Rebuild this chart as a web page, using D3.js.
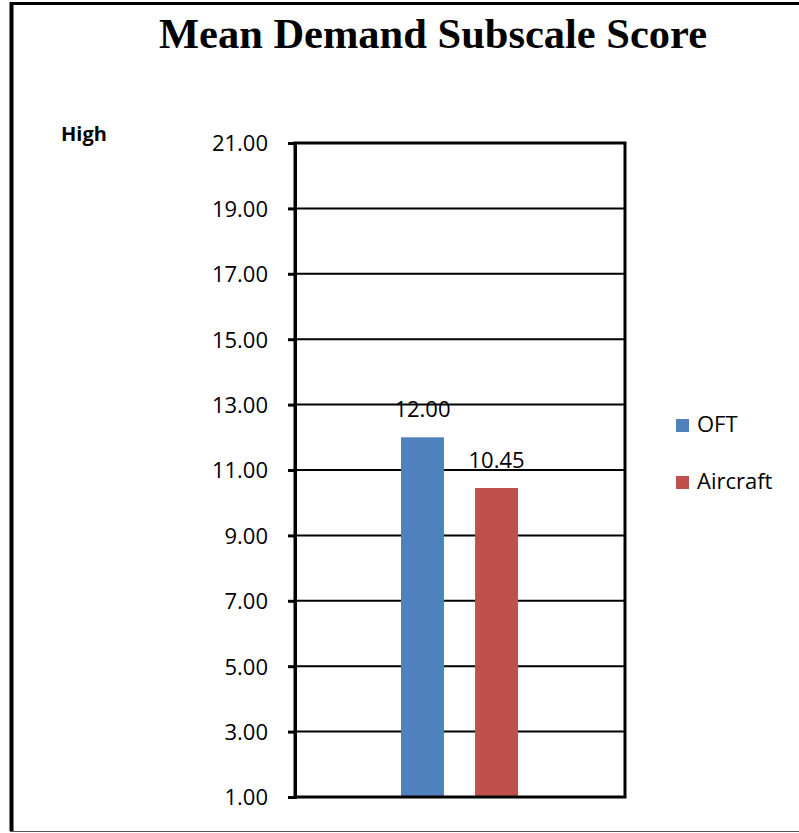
<!DOCTYPE html>
<html>
<head>
<meta charset="utf-8">
<script src="https://cdn.jsdelivr.net/npm/d3@7"></script>
<style>
  body { margin: 0; background: #fff; }
  svg text { fill: #000; }
</style>
</head>
<body>
<script>
// chart values
const series = ['OFT', 'Aircraft'];
const values = [12.00, 10.45];
const colors = ['#4f81bd', '#c0504d'];
const ticks = [1, 3, 5, 7, 9, 11, 13, 15, 17, 19, 21];

const W = 799, H = 833;
const plot = { left: 295, right: 625, top: 143, bottom: 797 };
const font = 'Open Sans, Lato, sans-serif';

const svg = d3.select('body').append('svg').attr('width', W).attr('height', H);

// outer frame (left, top, bottom only visible)
svg.append('line').attr('x1', 11.5).attr('x2', 11.5).attr('y1', 2).attr('y2', 831)
  .attr('stroke', '#000').attr('stroke-width', 4);
svg.append('line').attr('x1', 10).attr('x2', W).attr('y1', 3.5).attr('y2', 3.5)
  .attr('stroke', '#000').attr('stroke-width', 3);
svg.append('line').attr('x1', 10).attr('x2', W).attr('y1', 831.5).attr('y2', 831.5)
  .attr('stroke', '#555').attr('stroke-width', 1);

svg.append('text').attr('x', 433).attr('y', 48).attr('text-anchor', 'middle')
  .style('font-family', 'Liberation Serif, Times New Roman, serif')
  .style('font-weight', 'bold').style('font-size', '42.5px')
  .text('Mean Demand Subscale Score');

svg.append('text').attr('x', 61).attr('y', 141)
  .style('font-family', font)
  .style('font-weight', 'bold').style('font-size', '20px')
  .text('High');

const y = d3.scaleLinear().domain([1, 21]).range([plot.bottom, plot.top]);
const x1 = d3.scaleBand().domain(series).range([401, 518]).paddingInner(0.42);

// gridlines
svg.append('g').selectAll('line').data(ticks).join('line')
  .attr('x1', plot.left).attr('x2', plot.right)
  .attr('y1', d => y(d)).attr('y2', d => y(d))
  .attr('stroke', '#000').attr('stroke-width', 2);

// bars
svg.append('g').selectAll('rect').data(values).join('rect')
  .attr('x', (d, i) => x1(series[i]))
  .attr('width', x1.bandwidth())
  .attr('y', d => y(d))
  .attr('height', d => y(1) - y(d))
  .attr('fill', (d, i) => colors[i]);

// data labels
svg.append('g').selectAll('text').data(values).join('text')
  .attr('x', (d, i) => x1(series[i]) + x1.bandwidth() / 2)
  .attr('y', d => y(d) - 20)
  .attr('text-anchor', 'middle')
  .style('font-family', font).style('font-size', '22px')
  .text(d => d.toFixed(2));

// plot border
svg.append('rect').attr('x', plot.left).attr('y', plot.top)
  .attr('width', plot.right - plot.left).attr('height', plot.bottom - plot.top)
  .attr('fill', 'none').attr('stroke', '#000').attr('stroke-width', 3);

// y axis
const yAxis = d3.axisLeft(y).tickValues(ticks).tickFormat(d3.format('.2f'))
  .tickSize(7).tickPadding(20);
const ag = svg.append('g').attr('transform', `translate(${plot.left},0)`).call(yAxis);
ag.select('.domain').attr('stroke-width', 3);
ag.selectAll('.tick line').attr('stroke-width', 3);
ag.selectAll('.tick text').attr('dy', '0.36em')
  .style('font-family', font).style('font-size', '22px');

// legend
const lg = svg.append('g').selectAll('g').data(series).join('g')
  .attr('transform', (d, i) => `translate(676,${419 + i * 57})`);
lg.append('rect').attr('width', 13).attr('height', 13).attr('fill', (d, i) => colors[i]);
lg.append('text').attr('x', 21).attr('y', 13)
  .style('font-family', font).style('font-size', '22px')
  .text(d => d);
</script>
</body>
</html>
